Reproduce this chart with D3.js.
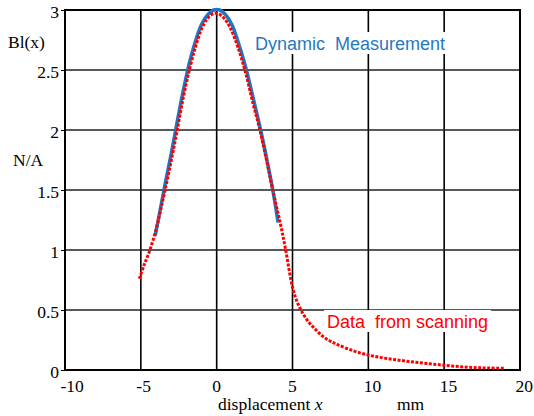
<!DOCTYPE html>
<html>
<head>
<meta charset="utf-8">
<script src="https://cdn.jsdelivr.net/npm/d3@7"></script>
<style>
  body { margin: 0; background: #fff; }
  svg { display: block; }
</style>
</head>
<body>
<svg id="chart" width="534" height="416"></svg>
<script>
// ticks
const xTicks = [-10, -5, 0, 5, 10, 15, 20];
const yTicks = [0, 0.5, 1, 1.5, 2, 2.5, 3];

// red dotted curve: data from scanning
const scanX = [-5.1, -4.8, -4.4, -4.0, -3.7, -3.4, -3.0, -2.6, -2.2, -1.8, -1.4, -1.0, -0.6, -0.2,
  0.1, 0.5, 0.9, 1.4, 1.9, 2.4, 2.85, 3.3, 3.7, 4.2, 4.55, 5.0, 5.3, 5.6, 6.0, 6.5, 7.0, 7.5,
  8.0, 9.0, 10.0, 11.0, 12.0, 13.0, 14.0, 15.0, 16.0, 17.0, 18.0, 19.0];
const scanY = [0.76, 0.87, 1.0, 1.17, 1.33, 1.5, 1.74, 2.0, 2.27, 2.5, 2.69, 2.84, 2.93, 2.97,
  2.97, 2.93, 2.85, 2.69, 2.48, 2.22, 2.0, 1.74, 1.5, 1.22, 1.0, 0.69, 0.57, 0.49, 0.41, 0.34, 0.28, 0.24,
  0.21, 0.16, 0.125, 0.1, 0.082, 0.066, 0.052, 0.04, 0.028, 0.02, 0.016, 0.014];

// blue solid curve: dynamic measurement
const dynX = [-4.05, -3.7, -3.4, -3.0, -2.6, -2.2, -1.8, -1.4, -1.0, -0.6, -0.2, 0.2, 0.6, 1.0,
  1.4, 1.9, 2.4, 2.9, 3.3, 3.7, 4.05];
const dynY = [1.12, 1.35, 1.55, 1.8, 2.07, 2.33, 2.56, 2.74, 2.88, 2.96, 3.0, 3.0, 2.96, 2.88,
  2.74, 2.53, 2.27, 2.0, 1.76, 1.5, 1.23];

const svg = d3.select('#chart');
const margin = { top: 10, right: 14, bottom: 46, left: 65 };
const width = +svg.attr('width');
const height = +svg.attr('height');
const innerWidth = width - margin.left - margin.right;
const innerHeight = height - margin.top - margin.bottom;

const xScale = d3.scaleLinear().domain([-10, 20]).range([margin.left, margin.left + innerWidth]);
const yScale = d3.scaleLinear().domain([0, 3]).range([margin.top + innerHeight, margin.top]);

const serif = '"Liberation Serif", "Times New Roman", serif';
const sans = '"Liberation Sans", Arial, sans-serif';

// grid
const grid = svg.append('g').attr('class', 'grid');
grid.selectAll('.vgrid').data(xTicks.slice(1, -1)).enter().append('line')
  .attr('class', 'vgrid')
  .attr('x1', d => xScale(d)).attr('x2', d => xScale(d))
  .attr('y1', yScale(0)).attr('y2', yScale(3))
  .attr('stroke', '#000').attr('stroke-width', 1.6);
grid.selectAll('.hgrid').data(yTicks.slice(1, -1)).enter().append('line')
  .attr('class', 'hgrid')
  .attr('x1', xScale(-10)).attr('x2', xScale(20))
  .attr('y1', d => yScale(d)).attr('y2', d => yScale(d))
  .attr('stroke', '#222').attr('stroke-width', 1.4);

// frame
svg.append('rect')
  .attr('x', xScale(-10)).attr('y', yScale(3))
  .attr('width', xScale(20) - xScale(-10)).attr('height', yScale(0) - yScale(3))
  .attr('fill', 'none').attr('stroke', '#000').attr('stroke-width', 2);

// y axis
const yAxis = d3.axisLeft(yScale).tickValues(yTicks).tickSize(4).tickPadding(2).tickFormat(d => String(d));
const yAxisG = svg.append('g')
  .attr('transform', `translate(${xScale(-10)},0)`)
  .attr('font-family', serif).attr('font-size', 17.5)
  .call(yAxis);
yAxisG.select('.domain').remove();
yAxisG.selectAll('line').attr('stroke', '#000').attr('stroke-width', 1);
yAxisG.selectAll('text')
  .attr('font-family', serif).attr('font-size', 17.5).attr('fill', '#000')
  .attr('dy', '0.45em');

// x axis
const xAxis = d3.axisBottom(xScale).tickValues(xTicks).tickSize(0).tickPadding(9).tickFormat(d => String(d));
const xAxisG = svg.append('g')
  .attr('transform', `translate(0,${yScale(0)})`)
  .call(xAxis)
  .attr('font-family', serif).attr('font-size', 17.5);
xAxisG.select('.domain').remove();
xAxisG.selectAll('text')
  .attr('font-family', serif).attr('font-size', 17.5).attr('fill', '#000')
  .attr('text-anchor', 'start').attr('x', -5).attr('y', 22).attr('dy', null);

// axis titles
svg.append('text').attr('x', 8).attr('y', 48)
  .attr('font-family', serif).attr('font-size', 17.5).text('Bl(x)');
svg.append('text').attr('x', 13).attr('y', 166)
  .attr('font-family', serif).attr('font-size', 17.5).text('N/A');
const xTitle = svg.append('text').attr('x', 218).attr('y', 410)
  .attr('font-family', serif).attr('font-size', 17.5);
xTitle.append('tspan').text('displacement ');
xTitle.append('tspan').attr('font-style', 'italic').text('x');
svg.append('text').attr('x', 397).attr('y', 410)
  .attr('font-family', serif).attr('font-size', 17.5).text('mm');

// in-plot labels with white backing
const inLabel = (txt, x, y, color) => {
  const g = svg.append('g');
  const bg = g.append('rect').attr('fill', '#fff');
  const t = g.append('text').attr('x', x).attr('y', y)
    .attr('font-family', sans).attr('font-size', 18).attr('fill', color)
    .style('white-space', 'pre')
    .text(txt);
  const bb = t.node().getBBox();
  bg.attr('x', bb.x - 3).attr('y', y - 18).attr('width', bb.width + 6).attr('height', 22);
};
inLabel('Dynamic  Measurement', 255, 50, '#1f7ac4');
inLabel('Data  from scanning', 327, 328, '#ff0000');

// curves
const line = d3.line()
  .x(d => xScale(d[0]))
  .y(d => yScale(d[1]))
  .curve(d3.curveCatmullRom);

svg.append('path')
  .datum(d3.zip(dynX, dynY))
  .attr('d', line)
  .attr('fill', 'none')
  .attr('stroke', '#1f77c0')
  .attr('stroke-width', 3.5);

svg.append('path')
  .datum(d3.zip(scanX, scanY))
  .attr('d', line)
  .attr('fill', 'none')
  .attr('stroke', '#ff0000')
  .attr('stroke-width', 3)
  .attr('stroke-dasharray', '3,1.5');
</script>
</body>
</html>
